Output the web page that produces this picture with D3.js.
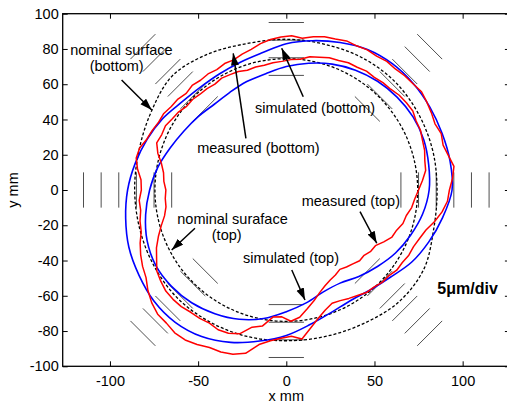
<!DOCTYPE html>
<html>
<head>
<meta charset="utf-8">
<script src="https://cdnjs.cloudflare.com/ajax/libs/d3/7.8.5/d3.min.js"></script>
<style>
body { margin: 0; background: #fff; }
svg { display: block; font-family: Arial, "Liberation Sans", sans-serif; }
</style>
</head>
<body>
<div id="chart"></div>
<script>
// tick values
var xTicks = [-100, -50, 0, 50, 100];
var yTicks = [-100, -80, -60, -40, -20, 0, 20, 40, 60, 80, 100];

// profiles in polar form: angle (deg, ccw from +x) and radius (mm)
var angles15 = d3.range(0, 360, 15);
var angles10 = d3.range(0, 360, 10);
var angles4 = d3.range(0, 360, 4);

// nominal surface (bottom) - dashed, 15 deg steps
var nominalBottomR = [85.5, 86, 86.5, 87, 86.5, 85.5, 85.5, 86, 89, 91.5, 88.5, 86.5,
                      86, 86, 86.5, 87, 86.5, 86, 85.5, 86, 87.5, 90, 90, 86.5];
// nominal surface (top) - dashed circle
var nominalTopR = 74.5;

// simulated (bottom) / (top) - blue, 10 deg steps
var simBottomR = [94, 94.3, 94, 94, 94, 93.5, 92, 89, 86, 83, 79, 77,
                  76, 76, 77.5, 81, 84, 87, 90, 92.5, 95, 96.5, 98, 98,
                  96, 92, 87, 82.5, 77.5, 74, 72.5, 74, 77, 82, 86, 90];
var simTopR = [81, 82, 83, 83, 82, 80.5, 78.5, 76, 73, 70, 67, 65.5,
               64, 63.5, 65, 67, 70, 74, 77.5, 81, 84, 85.5, 85, 83.5,
               81, 78, 74, 69, 65, 61.5, 61, 64, 67.5, 71.5, 75, 78.5];

// measured (bottom) / (top) - red, 4 deg steps
var measBottomR = [92.5, 94.5, 96, 94, 92.5, 93.5, 92.3, 93.2, 94, 94.8, 93.8, 93.3,
                   92.4, 92.6, 91.6, 91.8, 91, 91.2, 90, 89.6, 88.3, 86.6, 87.6, 86.8,
                   85.8, 84.3, 82.2, 81, 79.6, 79.8, 78.8, 79.4, 79, 79.8, 78.9, 80.2,
                   80.6, 81.9, 82, 83.2, 84.2, 86.5, 87, 85.2, 82.6, 82.2, 83.6, 83.4,
                   84.8, 85.6, 88.2, 90.4, 92.3, 93.8, 97, 99.6, 101.4, 101.6, 102.8, 102.6,
                   101.2, 99.4, 99.1, 98, 95.5, 89, 86, 84.2, 83, 85, 79.5, 75,
                   71.6, 69.3, 69.8, 71, 72.2, 73.8, 74.2, 75.5, 75.8, 77.4, 77.6, 78.7,
                   79, 80.4, 82.4, 86, 89.2, 91.6];
var measTopR = [75, 77.4, 79.8, 80.3, 81.6, 82.2, 83.3, 83.4, 84.6, 84.2, 83.6, 82.3,
                81.9, 81.1, 81.3, 80.4, 80.3, 79.2, 78.9, 77.6, 76.8, 74.6, 74, 73,
                72.6, 71.8, 71.9, 71.4, 72.5, 72.8, 73.3, 72.4, 73, 73.1, 73.9, 73.8,
                75.4, 76.2, 77.6, 77.3, 78.2, 75.8, 72.4, 70.3, 69.6, 68.3, 68.8, 68.9,
                70.6, 73.8, 77.2, 80.6, 83.3, 86.6, 88, 89.2, 89.3, 89, 88, 87.8,
                87.2, 88.2, 87.6, 85.8, 80.2, 78.4, 72.5, 72, 74.5, 72.6, 68.4, 64.8,
                61.2, 58.6, 56.8, 55.7, 54.3, 55.4, 56.4, 57.8, 57.6, 59.2, 59.6, 62.6,
                65.6, 66.6, 68.8, 69.6, 71.8, 73];

// 5um/div scale marks
var markDirs = [0, 45, 90, 135, 180, 225, 270, 315];
var markRadii = [65, 75, 85, 95, 105, 115];

var width = 507, height = 405;

var x = d3.scaleLinear().domain([-126.8, 126.8]).range([62.7, 509.9]);
var y = d3.scaleLinear().domain([-100, 100]).range([366.3, 13.7]);

var svg = d3.select("#chart").append("svg")
    .attr("width", width)
    .attr("height", height);

var defs = svg.append("defs");
defs.append("clipPath").attr("id", "plotclip")
  .append("rect")
    .attr("x", x(-126.8)).attr("y", y(100))
    .attr("width", x(126.8) - x(-126.8))
    .attr("height", y(-100) - y(100));

defs.append("marker")
    .attr("id", "head")
    .attr("markerUnits", "userSpaceOnUse")
    .attr("markerWidth", 13).attr("markerHeight", 9)
    .attr("refX", 12).attr("refY", 4)
    .attr("orient", "auto")
  .append("path")
    .attr("d", "M0,0L12,4L0,8Z")
    .attr("fill", "#000");

function polar(angles, radii) {
    return angles.map(function(a, i) {
        var t = a * Math.PI / 180;
        return [radii[i] * Math.cos(t), radii[i] * Math.sin(t)];
    });
}

var plot = svg.append("g").attr("clip-path", "url(#plotclip)");

// scale marks, perpendicular to each direction
var marks = [];
markDirs.forEach(function(a) {
    var t = a * Math.PI / 180;
    markRadii.forEach(function(r) {
        var cx = r * Math.cos(t), cy = r * Math.sin(t);
        marks.push([cx + 10 * Math.sin(t), cy - 10 * Math.cos(t), cx - 10 * Math.sin(t), cy + 10 * Math.cos(t)]);
    });
});
plot.selectAll("line.mark")
    .data(marks)
  .enter().append("line")
    .attr("class", "mark")
    .attr("x1", function(d) { return x(d[0]); })
    .attr("y1", function(d) { return y(d[1]); })
    .attr("x2", function(d) { return x(d[2]); })
    .attr("y2", function(d) { return y(d[3]); })
    .attr("stroke", "#222")
    .attr("stroke-width", 0.8);

var smooth = d3.line().x(function(d) { return x(d[0]); }).y(function(d) { return y(d[1]); })
    .curve(d3.curveCatmullRomClosed);
var rough = d3.line().x(function(d) { return x(d[0]); }).y(function(d) { return y(d[1]); })
    .curve(d3.curveLinearClosed);

// nominal surfaces
plot.append("path")
    .attr("d", smooth(polar(angles15, nominalBottomR)))
    .attr("fill", "none").attr("stroke", "#000")
    .attr("stroke-width", 1.3).attr("stroke-dasharray", "3,2");
plot.append("ellipse")
    .attr("cx", x(0)).attr("cy", y(0))
    .attr("rx", x(nominalTopR) - x(0)).attr("ry", y(0) - y(nominalTopR))
    .attr("fill", "none").attr("stroke", "#000")
    .attr("stroke-width", 1.3).attr("stroke-dasharray", "3,2");

// simulated
[simBottomR, simTopR].forEach(function(r) {
    plot.append("path")
        .attr("d", smooth(polar(angles10, r)))
        .attr("fill", "none").attr("stroke", "#0000ff").attr("stroke-width", 1.6);
});
// measured
[measBottomR, measTopR].forEach(function(r) {
    plot.append("path")
        .attr("d", rough(polar(angles4, r)))
        .attr("fill", "none").attr("stroke", "#ff0000").attr("stroke-width", 1.5)
        .attr("stroke-linejoin", "round");
});

// axes (ticks inside, MATLAB box)
var fmt = function(d) { return String(d); };
var gx = svg.append("g").attr("transform", "translate(0," + y(-100) + ")")
    .call(d3.axisBottom(x).tickValues(xTicks).tickSize(-5).tickPadding(9).tickFormat(fmt));
var gy = svg.append("g").attr("transform", "translate(" + x(-126.8) + ",0)")
    .call(d3.axisLeft(y).tickValues(yTicks).tickSize(-5).tickPadding(4).tickFormat(fmt));
var gt = svg.append("g").attr("transform", "translate(0," + y(100) + ")")
    .call(d3.axisTop(x).tickValues(xTicks).tickSize(-5).tickFormat(""));
var gr = svg.append("g").attr("transform", "translate(" + x(126.8) + ",0)")
    .call(d3.axisRight(y).tickValues(yTicks).tickSize(-5).tickFormat(""));
[gx, gy, gt, gr].forEach(function(g) {
    g.select(".domain").remove();
    g.selectAll(".tick line").attr("stroke", "#000").attr("stroke-width", 1);
    g.selectAll("text").attr("font-size", "14.5px").attr("fill", "#000")
        .attr("font-family", "Arial, 'Liberation Sans', sans-serif");
});
svg.append("rect")
    .attr("x", x(-126.8)).attr("y", y(100))
    .attr("width", x(126.8) - x(-126.8))
    .attr("height", y(-100) - y(100))
    .attr("fill", "none").attr("stroke", "#000").attr("stroke-width", 1.3);

// axis labels
svg.append("text").attr("x", x(0)).attr("y", 401)
    .attr("text-anchor", "middle").attr("font-size", "14.5px").text("x mm");
svg.append("text")
    .attr("transform", "translate(18," + y(0) + ") rotate(-90)")
    .attr("text-anchor", "middle").attr("font-size", "14.5px").text("y mm");

// annotations (positions in mm)
var notes = [
    {text: "nominal surface", x: -93.5, y: 76.6},
    {text: "(bottom)", x: -96.2, y: 67.5},
    {text: "simulated (bottom)", x: 16.3, y: 43.8},
    {text: "measured (bottom)", x: -15.8, y: 20.8},
    {text: "nominal suraface", x: -30.5, y: -19.3},
    {text: "(top)", x: -33.8, y: -28.4},
    {text: "measured (top)", x: 36.6, y: -8.9},
    {text: "simulated (top)", x: 2.7, y: -41.6}
];
svg.selectAll("text.note")
    .data(notes)
  .enter().append("text")
    .attr("class", "note")
    .attr("x", function(d) { return x(d.x); })
    .attr("y", function(d) { return y(d.y); })
    .attr("text-anchor", "middle")
    .attr("font-size", "14.5px")
    .text(function(d) { return d.text; });

svg.append("text")
    .attr("x", x(102.8)).attr("y", y(-59.2))
    .attr("text-anchor", "middle")
    .attr("font-size", "16px").attr("font-weight", "bold")
    .text("5\u03bcm/div");

var arrows = [
    [-93.4, 62.4, -76.3, 45.4],
    [9.6, 52.9, -2.6, 80.4],
    [-22.9, 29.3, -30.1, 77.5],
    [-51.8, -21.7, -65, -34],
    [41.8, -12.3, 51.3, -30.2],
    [3.1, -45.4, 10.6, -62.4]
];
svg.selectAll("line.arrow")
    .data(arrows)
  .enter().append("line")
    .attr("class", "arrow")
    .attr("x1", function(d) { return x(d[0]); })
    .attr("y1", function(d) { return y(d[1]); })
    .attr("x2", function(d) { return x(d[2]); })
    .attr("y2", function(d) { return y(d[3]); })
    .attr("stroke", "#000")
    .attr("stroke-width", 1.5)
    .attr("marker-end", "url(#head)");
</script>
</body>
</html>
